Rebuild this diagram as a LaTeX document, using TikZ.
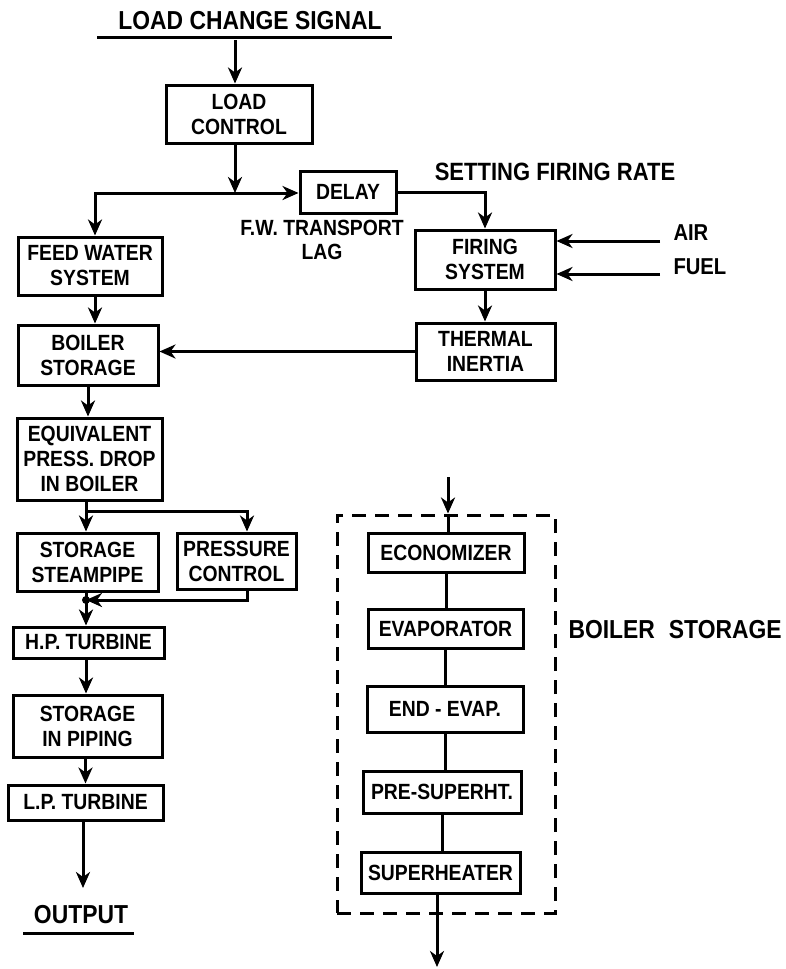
\documentclass[tikz,border=0pt]{standalone}
\usepackage{fontspec}
\setmainfont{Liberation Sans}[FakeStretch=0.88]
\usetikzlibrary{arrows.meta}
\begin{document}
\begin{tikzpicture}[x=1pt,y=-1pt, line width=3pt,
  >={Stealth[length=16pt,width=14pt,inset=5pt]},
  blk/.style={draw, rectangle, align=center, inner sep=1pt, font=\fontsize{22}{25}\selectfont\bfseries},
  lbl/.style={inner sep=0pt, align=center}]
\useasboundingbox (0,0) rectangle (786,969);

% title
\node[lbl, font=\fontsize{26}{28}\selectfont\bfseries] (sig) at (250,21) {LOAD CHANGE SIGNAL};
\draw (97,37) -- (392,37);
\coordinate (sigfoot) at (235,40);

% left column
\node[blk, minimum width=146pt, minimum height=58pt] (lc) at (239,114) {LOAD\\CONTROL};
\node[blk, minimum width=96pt, minimum height=42pt] (delay) at (348,192) {DELAY};
\node[blk, minimum width=144pt, minimum height=58pt] (fw) at (90,266) {FEED WATER\\SYSTEM};
\node[blk, minimum width=140pt, minimum height=60pt] (bs) at (88,355) {BOILER\\STORAGE};
\node[blk, minimum width=145pt, minimum height=82pt] (eq) at (89.5,459) {EQUIVALENT\\PRESS. DROP\\IN BOILER};
\node[blk, minimum width=141pt, minimum height=58pt] (ss) at (87.5,562) {STORAGE\\STEAMPIPE};
\node[blk, minimum width=119pt, minimum height=56pt] (pc) at (236.5,561) {PRESSURE\\CONTROL};
\node[blk, minimum width=151pt, minimum height=31pt] (hp) at (88.5,642.5) {H.P. TURBINE};
\node[blk, minimum width=149pt, minimum height=62pt] (sp) at (87.5,726) {STORAGE\\IN PIPING};
\node[blk, minimum width=155pt, minimum height=35pt] (lp) at (85.5,802.5) {L.P. TURBINE};
\node[lbl, font=\fontsize{26}{28}\selectfont\bfseries] (out) at (81,915) {OUTPUT};
\draw (23,933) -- (134,933);
\coordinate (outend) at (83,888);

% right upper
\node[lbl, font=\fontsize{22}{24}\selectfont\bfseries] (fwlag) at (322,240) {F.W. TRANSPORT\\LAG};
\node[lbl, font=\fontsize{25}{28}\selectfont\bfseries] (setfr) at (555,172) {SETTING FIRING RATE};
\node[blk, minimum width=140pt, minimum height=59pt] (firing) at (485,259.5) {FIRING\\SYSTEM};
\node[blk, minimum width=139pt, minimum height=57pt] (thermal) at (485.5,351.5) {THERMAL\\INERTIA};
\node[lbl, font=\fontsize{23}{26}\selectfont\bfseries, anchor=west] (air) at (672,233) {AIR};
\node[lbl, font=\fontsize{23}{26}\selectfont\bfseries, anchor=west] (fuel) at (672,267) {FUEL};
\coordinate (airfoot) at (660,241);
\coordinate (fuelfoot) at (660,274);

% boiler storage detail
\node[draw, dash pattern=on 14pt off 9pt, rectangle, minimum width=218pt, minimum height=398pt, inner sep=0pt] (dbox) at (446,714) {};
\node[blk, minimum width=156pt, minimum height=39pt] (eco) at (446,552.5) {ECONOMIZER};
\node[blk, minimum width=155pt, minimum height=39pt] (eva) at (445.5,628.5) {EVAPORATOR};
\node[blk, minimum width=156pt, minimum height=46pt] (end) at (445,709) {END - EVAP.};
\node[blk, minimum width=158pt, minimum height=42pt] (pre) at (442,792) {PRE-SUPERHT.};
\node[blk, minimum width=159pt, minimum height=41pt] (sup) at (440.5,872.5) {SUPERHEATER};
\node[lbl, font=\fontsize{26}{28}\selectfont\bfseries, anchor=west] (bslbl) at (567,630) {BOILER\hspace{14pt}STORAGE};
\coordinate (ein) at (448,477);
\coordinate (eout) at (437,967);

% junctions
\coordinate (j1) at (235,193);
\coordinate (j2) at (86,511);
\coordinate (j3) at (86,600);

% connectors
\draw[->] (sigfoot) -- (sigfoot |- lc.north);
\draw[->] (lc.south -| j1) -- (j1);
\draw[->] (j1) -- (delay.west |- j1);
\draw[->] (j1) -| ([xshift=5pt]fw.north);
\draw[->] (delay.east) -| (firing.north);
\draw[->] (airfoot) -- (firing.east |- airfoot);
\draw[->] (fuelfoot) -- (firing.east |- fuelfoot);
\draw[->] (firing.south) -- (thermal.north -| firing.south);
\draw[->] (thermal.west) -- (bs.east |- thermal.west);
\draw[->] ([xshift=5pt]fw.south) -- ([xshift=5pt]fw.south |- bs.north);
\draw[->] (bs.south) -- (bs.south |- eq.north);
\draw (eq.south -| j2) -- (j2);
\draw[->] (j2) -- (j2 |- ss.north);
\draw[->] (j2) -| ([xshift=10.5pt]pc.north);
\draw[->] ([xshift=10.5pt]pc.south) |- (j3);
\draw (ss.south -| j3) -- (j3);
\fill (j3) circle (4pt);
\draw[->] (j3) -- (j3 |- hp.north);
\draw[->] (hp.south -| j3) -- (j3 |- sp.north);
\draw[->] (sp.south -| lp.north) -- (lp.north);
\draw[->] (lp.south -| outend) -- (outend);

\draw[->] (ein) -- (ein |- dbox.north);
\draw (ein |- dbox.north) -- (ein |- eco.north);
\draw (eco.south) -- (eco.south |- eva.north);
\draw (eva.south) -- (eva.south |- end.north);
\draw (end.south) -- (end.south |- pre.north);
\draw (pre.south) -- (pre.south |- sup.north);
\draw[->] (sup.south -| eout) -- (eout);
\end{tikzpicture}
\end{document}
